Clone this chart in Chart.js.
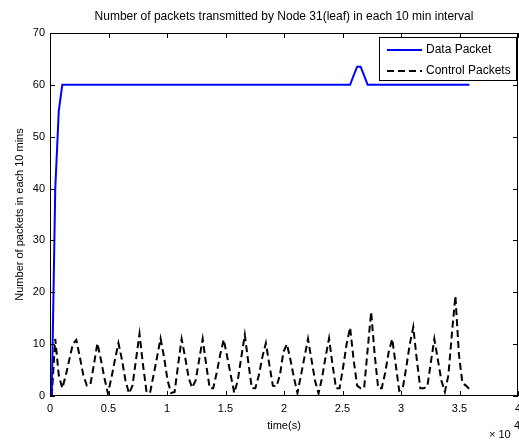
<!DOCTYPE html>
<html>
<head>
<meta charset="utf-8">
<script src="https://cdn.jsdelivr.net/npm/chart.js@4.4.0/dist/chart.umd.min.js"></script>
<style>
  html, body { margin: 0; padding: 0; background: #fff; }
  canvas { display: block; }
</style>
</head>
<body>
<canvas id="packetChart" width="519" height="442"></canvas>
<script>
// time of each sample in seconds
const times = [
  150, 450, 750, 1050, 1350, 1650, 1950, 2250, 2550, 2850,
  3150, 3450, 3750, 4050, 4350, 4650, 4950, 5250, 5550, 5850,
  6150, 6450, 6750, 7050, 7350, 7650, 7950, 8250, 8550, 8850,
  9150, 9450, 9750, 10050, 10350, 10650, 10950, 11250, 11550, 11850,
  12150, 12450, 12750, 13050, 13350, 13650, 13950, 14250, 14550, 14850,
  15150, 15450, 15750, 16050, 16350, 16650, 16950, 17250, 17550, 17850,
  18150, 18450, 18750, 19050, 19350, 19650, 19950, 20250, 20550, 20850,
  21150, 21450, 21750, 22050, 22350, 22650, 22950, 23250, 23550, 23850,
  24150, 24450, 24750, 25050, 25350, 25650, 25950, 26250, 26550, 26850,
  27150, 27450, 27750, 28050, 28350, 28650, 28950, 29250, 29550, 29850,
  30150, 30450, 30750, 31050, 31350, 31650, 31950, 32250, 32550, 32850,
  33150, 33450, 33750, 34050, 34350, 34650, 34950, 35250, 35550, 35850
];

const dataPackets = [
  0, 40, 55, 60, 60, 60, 60, 60, 60, 60,
  60, 60, 60, 60, 60, 60, 60, 60, 60, 60,
  60, 60, 60, 60, 60, 60, 60, 60, 60, 60,
  60, 60, 60, 60, 60, 60, 60, 60, 60, 60,
  60, 60, 60, 60, 60, 60, 60, 60, 60, 60,
  60, 60, 60, 60, 60, 60, 60, 60, 60, 60,
  60, 60, 60, 60, 60, 60, 60, 60, 60, 60,
  60, 60, 60, 60, 60, 60, 60, 60, 60, 60,
  60, 60, 60, 60, 60, 60, 61.8, 63.5, 63.5, 61.8,
  60, 60, 60, 60, 60, 60, 60, 60, 60, 60,
  60, 60, 60, 60, 60, 60, 60, 60, 60, 60,
  60, 60, 60, 60, 60, 60, 60, 60, 60, 60
];

const controlPackets = [
  0, 11, 4, 1.5, 4, 7, 10, 10.8, 7.5, 4,
  2, 2.2, 6, 10.2, 7, 3.5, 0.5, 3.5, 7, 10.2,
  7, 3, 0.5, 2, 7, 12, 6, 0.8, 0.6, 4,
  7.5, 11.1, 7.5, 3, 0.6, 0.8, 6, 11, 7.5, 3.5,
  1.6, 3, 7, 11, 6, 1.5, 1.5, 4.5, 8, 10.9,
  7.5, 4, 0.6, 3, 7.5, 11.8, 6.5, 1.5, 1.5, 4,
  7.5, 10.2, 6, 2, 1.8, 4, 8.5, 10, 7, 3.5,
  0.6, 4, 7.5, 11, 7, 3, 0.5, 3.5, 7.5, 11.1,
  6, 1.5, 1.5, 5.5, 10, 13.2, 7, 2, 1.5, 1.5,
  9, 16.2, 8, 1.5, 1.5, 4.5, 8.5, 11, 6, 1,
  1.5, 5.5, 10, 13.3, 7, 1.5, 1.5, 1.8, 6.5, 11,
  7, 3, 0.8, 4, 12, 19.3, 8, 2.5, 2, 1.3
];

const seriesNames = ["Data Packet", "Control Packets"];
const xTickValues = [0, 5000, 10000, 15000, 20000, 25000, 30000, 35000, 40000];
const yTickValues = [0, 10, 20, 30, 40, 50, 60, 70];

const chartTitle = "Number of packets transmitted by Node 31(leaf) in each 10 min interval";
const xTitle = "time(s)";
const yTitle = "Number of packets in each 10 mins";

const FONT = "'Liberation Sans', Arial, Helvetica, sans-serif";
Chart.defaults.font.family = FONT;
Chart.defaults.font.size = 11;
Chart.defaults.color = "#000";

function toPoints(values) {
  return values.map((v, i) => ({ x: times[i], y: v }));
}

// box, inward ticks, titles and legend like a matlab figure
const matlabFrame = {
  id: "matlabFrame",
  afterDatasetsDraw(chart) {
    const { ctx, chartArea: a, scales } = chart;
    const x = scales.x, y = scales.y;
    ctx.save();
    ctx.strokeStyle = "#000";
    ctx.lineWidth = 1;
    ctx.strokeRect(a.left + 0.5, a.top + 0.5, a.right - a.left - 1, a.bottom - a.top - 1);

    ctx.beginPath();
    xTickValues.forEach((v) => {
      const px = Math.round(x.getPixelForValue(v)) + 0.5;
      ctx.moveTo(px, a.bottom); ctx.lineTo(px, a.bottom - 5);
      ctx.moveTo(px, a.top); ctx.lineTo(px, a.top + 5);
    });
    yTickValues.forEach((v) => {
      const py = Math.round(y.getPixelForValue(v)) + 0.5;
      ctx.moveTo(a.left, py); ctx.lineTo(a.left + 5, py);
      ctx.moveTo(a.right, py); ctx.lineTo(a.right - 5, py);
    });
    ctx.stroke();

    ctx.fillStyle = "#000";
    ctx.textBaseline = "middle";
    const cx = (a.left + a.right) / 2;
    ctx.font = "12px " + FONT;
    ctx.textAlign = "center";
    ctx.fillText(chartTitle, cx, 17);
    ctx.font = "11px " + FONT;
    ctx.fillText(xTitle, cx, 426);
    ctx.textAlign = "left";
    ctx.fillText("\u00d7 10", 489, 435);
    ctx.fillText("4", 514, 426);

    ctx.save();
    ctx.translate(20, (a.top + a.bottom) / 2);
    ctx.rotate(-Math.PI / 2);
    ctx.textAlign = "center";
    ctx.fillText(yTitle, 0, 0);
    ctx.restore();

    // legend
    ctx.font = "12px " + FONT;
    ctx.fillStyle = "#fff";
    ctx.fillRect(379.5, 37.5, 137, 43);
    ctx.strokeStyle = "#000";
    ctx.strokeRect(379.5, 37.5, 137, 43);
    chart.data.datasets.forEach((ds, i) => {
      const ly = 50 + i * 21;
      ctx.beginPath();
      ctx.strokeStyle = ds.borderColor;
      ctx.lineWidth = ds.borderWidth;
      ctx.setLineDash(ds.borderDash || []);
      ctx.moveTo(387, ly);
      ctx.lineTo(422, ly);
      ctx.stroke();
      ctx.setLineDash([]);
      ctx.fillStyle = "#000";
      ctx.fillText(ds.label, 426, ly);
    });
    ctx.restore();
  }
};

new Chart(document.getElementById("packetChart"), {
  type: "line",
  data: {
    datasets: [
      {
        label: seriesNames[0],
        data: toPoints(dataPackets),
        borderColor: "#0000ff",
        borderWidth: 2,
        pointRadius: 0,
        tension: 0,
      },
      {
        label: seriesNames[1],
        data: toPoints(controlPackets),
        borderColor: "#000000",
        borderWidth: 2,
        borderDash: [7, 4],
        pointRadius: 0,
        tension: 0,
      },
    ],
  },
  options: {
    responsive: false,
    animation: false,
    layout: { padding: { top: 33, right: 1, bottom: 0, left: 0 } },
    plugins: {
      legend: { display: false },
      title: { display: false },
      tooltip: { enabled: false },
    },
    scales: {
      x: {
        type: "linear",
        min: 0,
        max: 40000,
        grid: { display: false, drawTicks: false },
        border: { display: false },
        ticks: {
          stepSize: 5000,
          autoSkip: false,
          maxRotation: 0,
          padding: 6,
          callback: (v) => String(v / 10000),
        },
        afterFit: (scale) => {
          scale.height = 46;
          scale.paddingLeft = 0;
          scale.paddingRight = 0;
        },
      },
      y: {
        min: 0,
        max: 70,
        grid: { display: false, drawTicks: false },
        border: { display: false },
        ticks: { stepSize: 10, padding: 5 },
        afterFit: (scale) => {
          scale.width = 50;
          scale.paddingTop = 0;
          scale.paddingBottom = 0;
        },
      },
    },
  },
  plugins: [matlabFrame],
});
</script>
</body>
</html>
